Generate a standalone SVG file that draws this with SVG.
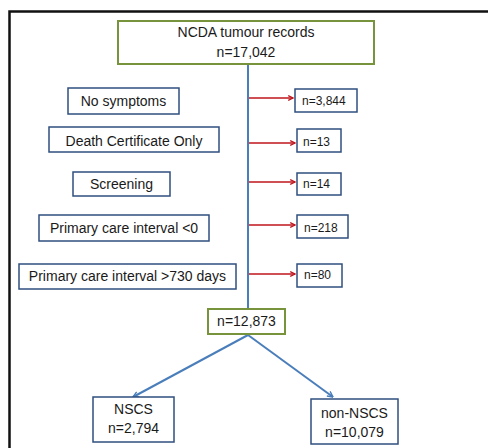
<svg xmlns="http://www.w3.org/2000/svg" width="488" height="448" viewBox="0 0 488 448">
<defs>
<style>
.t{font-family:"Liberation Sans",Arial,sans-serif;font-size:14px;fill:#1a1a1a;text-anchor:middle}
.s{font-family:"Liberation Sans",Arial,sans-serif;font-size:12px;fill:#1a1a1a}
.box{fill:#fff;stroke:#2F4F7F;stroke-width:1.5}
.gbox{fill:#fff;stroke:#77933C;stroke-width:2}
.red{stroke:#C0141C;stroke-width:1.5;fill:none}
.blue{stroke:#4A7EBB;stroke-width:2;fill:none}
</style>
<marker id="ar" viewBox="0 0 10 10" refX="9" refY="5" markerWidth="6" markerHeight="6" markerUnits="userSpaceOnUse" orient="auto">
<path d="M1,1 L9,5 L1,9" fill="none" stroke="#C0141C" stroke-width="2"/>
</marker>
<marker id="ab" viewBox="0 0 10 10" refX="9" refY="5" markerWidth="7" markerHeight="7" markerUnits="userSpaceOnUse" orient="auto">
<path d="M1,1 L9,5 L1,9" fill="none" stroke="#4A7EBB" stroke-width="2"/>
</marker>
</defs>
<rect width="488" height="448" fill="#fff"/>
<path d="M9.5,448 V11.5 H488" fill="none" stroke="#111" stroke-width="2.5"/>
<g id="connectors">
<line class="blue" x1="248" y1="64" x2="248" y2="309"/>
<line class="red" x1="249" y1="98" x2="293" y2="98" marker-end="url(#ar)"/>
<line class="red" x1="249" y1="143" x2="295" y2="143" marker-end="url(#ar)"/>
<line class="red" x1="249" y1="182" x2="295" y2="182" marker-end="url(#ar)"/>
<line class="red" x1="249" y1="225" x2="295" y2="225" marker-end="url(#ar)"/>
<line class="red" x1="249" y1="274" x2="295" y2="274" marker-end="url(#ar)"/>
<line class="blue" x1="248" y1="335" x2="133" y2="397" marker-end="url(#ab)"/>
<line class="blue" x1="248" y1="335" x2="333" y2="397" marker-end="url(#ab)"/>
</g>
<g id="n_total"><rect class="gbox" x="118" y="21" width="256" height="43"/><text class="t" x="246" y="37">NCDA tumour records</text><text class="t" x="246" y="57">n=17,042</text></g>
<g id="l_nosym"><rect class="box" x="68" y="88" width="111" height="26"/><text class="t" x="123.5" y="106">No symptoms</text></g>
<g id="c_nosym"><rect class="box" x="295" y="89" width="62" height="23"/><text class="s" x="302" y="105">n=3,844</text></g>
<g id="l_dco"><rect class="box" x="49" y="127" width="170" height="25"/><text class="t" x="134" y="146">Death Certificate Only</text></g>
<g id="c_dco"><rect class="box" x="297" y="129" width="44" height="23"/><text class="s" x="303" y="146">n=13</text></g>
<g id="l_scr"><rect class="box" x="73" y="172" width="97" height="24"/><text class="t" x="121.5" y="189">Screening</text></g>
<g id="c_scr"><rect class="box" x="297" y="173" width="44" height="22"/><text class="s" x="303" y="188">n=14</text></g>
<g id="l_pc0"><rect class="box" x="39" y="215" width="170" height="26"/><text class="t" x="124" y="233">Primary care interval &lt;0</text></g>
<g id="c_pc0"><rect class="box" x="297" y="215" width="51" height="23"/><text class="s" x="304" y="232">n=218</text></g>
<g id="l_pc730"><rect class="box" x="19" y="264" width="217" height="25"/><text class="t" x="127.5" y="281">Primary care interval &gt;730 days</text></g>
<g id="c_pc730"><rect class="box" x="297" y="264" width="45" height="23"/><text class="s" x="304" y="279">n=80</text></g>
<g id="n_remain"><rect class="gbox" x="208" y="309" width="77" height="25"/><text class="t" x="246.5" y="326">n=12,873</text></g>
<g id="n_nscs"><rect class="box" x="93" y="397" width="81" height="45"/><text class="t" x="133.5" y="414">NSCS</text><text class="t" x="133.5" y="433">n=2,794</text></g>
<g id="n_non"><rect class="box" x="311" y="399" width="87" height="45"/><text class="t" x="354.5" y="418">non-NSCS</text><text class="t" x="354.5" y="437">n=10,079</text></g>
</svg>
